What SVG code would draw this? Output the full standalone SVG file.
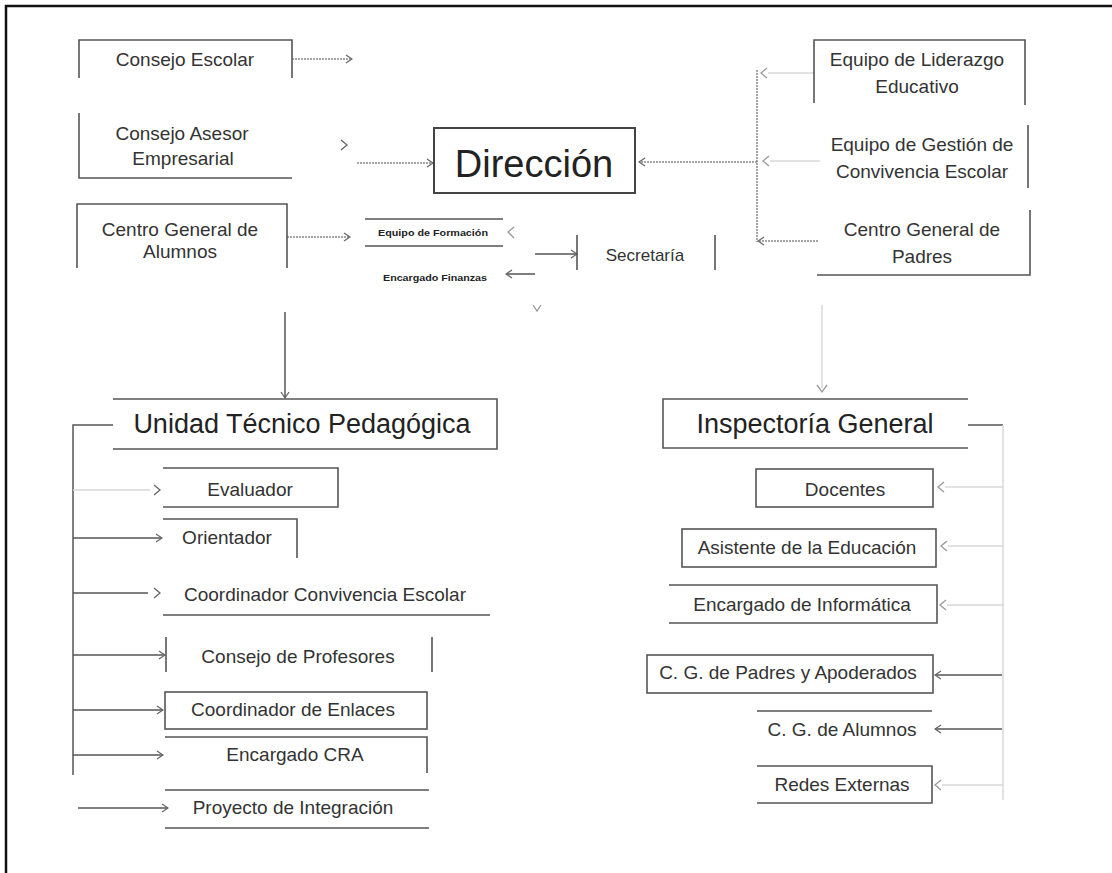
<svg xmlns="http://www.w3.org/2000/svg" width="1112" height="873" viewBox="0 0 1112 873">
<style>
.bg{fill:#fff}
.frame{fill:none;stroke:#111;stroke-width:2.5}
.box{fill:none;stroke:#555;stroke-width:1.6}
.boxb{fill:none;stroke:#444;stroke-width:2}
.t{font-family:"Liberation Sans",Arial,sans-serif;font-size:19px;fill:#333;text-anchor:middle}
.big{font-size:38px;fill:#222}
.mid{font-size:27px;fill:#222}
.sm{font-size:9px;fill:#222;font-weight:bold}
.sec{font-size:17px}
.solid{fill:none;stroke:#555;stroke-width:1.5}
.dot{fill:none;stroke:#888;stroke-width:1.5;stroke-dasharray:2 1}
.faint{fill:none;stroke:#d8d8d8;stroke-width:1.5}
.chev{fill:none;stroke:#666;stroke-width:1.3}
.chevf{fill:none;stroke:#999;stroke-width:1.3}
</style>
<defs>
<marker id="arr" viewBox="0 0 8 10" refX="7" refY="5" markerWidth="8" markerHeight="10" markerUnits="userSpaceOnUse" orient="auto">
<path d="M1,1 L7,5 L1,9" fill="none" stroke="#666" stroke-width="1.3"/>
</marker>
</defs>
<rect class="bg" x="0" y="0" width="1112" height="873"/>
<path class="frame" d="M6,873 V6 H1112"/>

<g id="connectors">
<path class="dot" d="M292,59 H352" marker-end="url(#arr)"/>
<path class="chev" d="M341,140 L347,145 L341,150"/>
<path class="dot" d="M357,163 H433" marker-end="url(#arr)"/>
<path class="dot" d="M287,237 H350" marker-end="url(#arr)"/>
<path class="chevf" d="M514,227 L508,232 L514,238"/>
<path class="solid" d="M535,274 H506" marker-end="url(#arr)"/>
<path class="solid" d="M535,254 H577" marker-end="url(#arr)"/>
<path class="chevf" d="M533,305 L537,311 L541,305"/>
<path class="dot" d="M757,162 H639" marker-end="url(#arr)"/>
<path class="dot" d="M757,70 V242"/>
<path class="faint" d="M814,73 H768"/>
<path class="chevf" d="M767,68 L761,73 L767,78"/>
<path class="faint" d="M820,161 H770"/>
<path class="chevf" d="M769,156 L763,161 L769,166"/>
<path class="dot" d="M818,241 H758" marker-end="url(#arr)"/>
<path class="solid" d="M285,312 V398" marker-end="url(#arr)"/>
<path class="faint" d="M822,305 V388"/>
<path class="chevf" d="M817,385 L822,392 L827,385"/>
<path class="solid" d="M113,425 H73 V775"/>
<path class="faint" d="M73,490 H150"/>
<path class="chev" d="M154,485 L160,490 L154,495"/>
<path class="solid" d="M73,538 H162" marker-end="url(#arr)"/>
<path class="solid" d="M73,593 H148"/>
<path class="chev" d="M154,588 L160,593 L154,598"/>
<path class="solid" d="M73,655 H165" marker-end="url(#arr)"/>
<path class="solid" d="M73,710 H163" marker-end="url(#arr)"/>
<path class="solid" d="M73,755 H163" marker-end="url(#arr)"/>
<path class="solid" d="M78,808 H168" marker-end="url(#arr)"/>
<path class="solid" d="M968,425 H1003"/>
<path class="faint" d="M1003,425 V800"/>
<path class="faint" d="M1003,487 H945"/>
<path class="chevf" d="M944,482 L938,487 L944,492"/>
<path class="faint" d="M1003,546 H948"/>
<path class="chevf" d="M947,541 L941,546 L947,551"/>
<path class="faint" d="M1003,605 H947"/>
<path class="chevf" d="M946,600 L940,605 L946,610"/>
<path class="solid" d="M1002,675 H935" marker-end="url(#arr)"/>
<path class="solid" d="M1002,729 H935" marker-end="url(#arr)"/>
<path class="faint" d="M1003,785 H942"/>
<path class="chevf" d="M941,780 L935,785 L941,790"/>
</g>

<g id="consejo-escolar"><path class="box" d="M79,78 V40 H292 V78"/><text class="t" x="185" y="66">Consejo Escolar</text></g>
<g id="consejo-asesor"><path class="box" d="M79,113 V178 H292"/><text class="t" x="182" y="140">Consejo Asesor</text><text class="t" x="183" y="165">Empresarial</text></g>
<g id="centro-alumnos"><path class="box" d="M77,268 V204 H287 V268"/><text class="t" x="180" y="236">Centro General de</text><text class="t" x="180" y="258">Alumnos</text></g>
<g id="direccion"><rect class="boxb" x="434" y="128" width="201" height="65"/><text class="t big" x="534" y="177">Dirección</text></g>
<g id="equipo-formacion"><path class="box" d="M365,219 H503 M365,246 H503"/><text class="t sm" x="433" y="236" textLength="110" lengthAdjust="spacingAndGlyphs">Equipo de Formación</text></g>
<g id="encargado-finanzas"><text class="t sm" x="435" y="281" textLength="104" lengthAdjust="spacingAndGlyphs">Encargado Finanzas</text></g>
<g id="secretaria"><path class="box" d="M577,235 V270 M715,235 V270"/><text class="t sec" x="645" y="261">Secretaría</text></g>
<g id="equipo-liderazgo"><path class="box" d="M814,103 V40 H1025 V105"/><text class="t" x="917" y="66">Equipo de Liderazgo</text><text class="t" x="917" y="93">Educativo</text></g>
<g id="equipo-gestion"><path class="box" d="M1028,125 V188"/><text class="t" x="922" y="151">Equipo de Gestión de</text><text class="t" x="922" y="178">Convivencia Escolar</text></g>
<g id="centro-padres"><path class="box" d="M1030,210 V275 H817"/><text class="t" x="922" y="236">Centro General de</text><text class="t" x="922" y="263">Padres</text></g>

<g id="utp"><path class="box" d="M113,399 H497 V449 H113"/><text class="t mid" x="302" y="433">Unidad Técnico Pedagógica</text></g>
<g id="evaluador"><path class="box" d="M163,468 H338 V507 H163"/><text class="t" x="250" y="496">Evaluador</text></g>
<g id="orientador"><path class="box" d="M163,519 H297 V558"/><text class="t" x="227" y="544">Orientador</text></g>
<g id="coord-convivencia"><path class="box" d="M163,615 H490"/><text class="t" x="325" y="601">Coordinador Convivencia Escolar</text></g>
<g id="consejo-profesores"><path class="box" d="M166,637 V672 M432,637 V672"/><text class="t" x="298" y="663">Consejo de Profesores</text></g>
<g id="coord-enlaces"><rect class="box" x="165" y="692" width="262" height="37"/><text class="t" x="293" y="716">Coordinador de Enlaces</text></g>
<g id="encargado-cra"><path class="box" d="M165,737 H427 V773"/><text class="t" x="295" y="761">Encargado CRA</text></g>
<g id="proyecto-integracion"><path class="box" d="M165,790 H429 M165,828 H429"/><text class="t" x="293" y="814">Proyecto de Integración</text></g>

<g id="inspectoria"><path class="box" d="M968,399 H663 V448 H968"/><text class="t mid" x="815" y="433">Inspectoría General</text></g>
<g id="docentes"><rect class="box" x="756" y="469" width="177" height="38"/><text class="t" x="845" y="496">Docentes</text></g>
<g id="asistente"><rect class="box" x="682" y="529" width="254" height="38"/><text class="t" x="807" y="554">Asistente de la Educación</text></g>
<g id="informatica"><path class="box" d="M669,585 H937 V623 H669"/><text class="t" x="802" y="611">Encargado de Informática</text></g>
<g id="cg-padres"><rect class="box" x="647" y="655" width="286" height="38"/><text class="t" x="788" y="679">C. G. de Padres y Apoderados</text></g>
<g id="cg-alumnos"><path class="box" d="M757,711 H932"/><text class="t" x="842" y="736">C. G. de Alumnos</text></g>
<g id="redes"><path class="box" d="M757,766 H932 V803 H757"/><text class="t" x="842" y="791">Redes Externas</text></g>
</svg>
